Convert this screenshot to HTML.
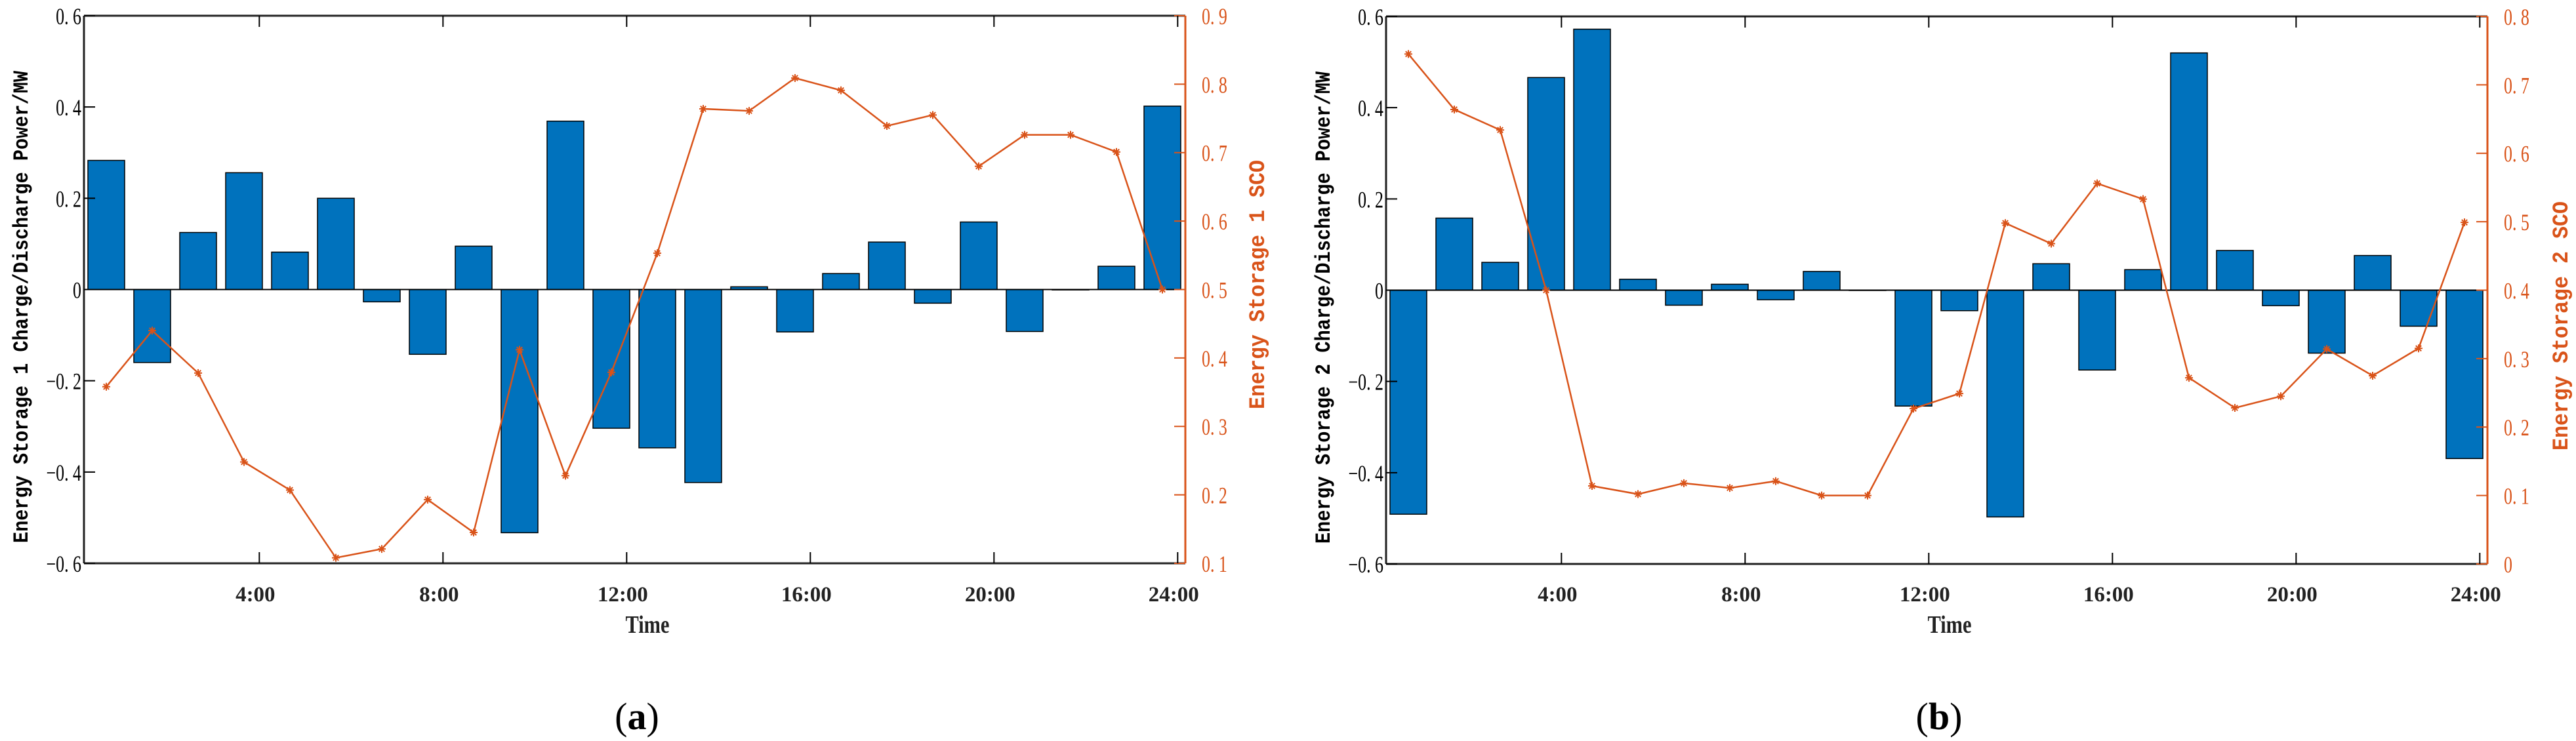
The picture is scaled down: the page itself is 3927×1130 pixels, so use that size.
<!DOCTYPE html>
<html><head><meta charset="utf-8"><style>
html,body{margin:0;padding:0;background:#fff;}
svg{display:block;}
text{font-family:"Liberation Serif",serif;}
text.mono{font-family:"Liberation Mono",monospace;}
</style></head><body>
<svg id="fig" width="3927" height="1130" viewBox="0 0 3927 1130" xmlns="http://www.w3.org/2000/svg"></svg>
<script>
const hours = [1,2,3,4,5,6,7,8,9,10,11,12,13,14,15,16,17,18,19,20,21,22,23,24];
const xTickValues = [4.333,8.333,12.333,16.333,20.333,24.333];
const xTickLabels = ["4:00","8:00","12:00","16:00","20:00","24:00"];
const powerTicks = [0.6,0.4,0.2,0,-0.2,-0.4,-0.6];
const powerTickLabels = ["0. 6","0. 4","0. 2","0","\u22120. 2","\u22120. 4","\u22120. 6"];
const socTicksA = [0.9,0.8,0.7,0.6,0.5,0.4,0.3,0.2,0.1];
const socTickLabelsA = ["0. 9","0. 8","0. 7","0. 6","0. 5","0. 4","0. 3","0. 2","0. 1"];
const socTicksB = [0.8,0.7,0.6,0.5,0.4,0.3,0.2,0.1,0];
const socTickLabelsB = ["0. 8","0. 7","0. 6","0. 5","0. 4","0. 3","0. 2","0. 1","0"];
const powerA = [0.283,-0.160,0.125,0.256,0.082,0.200,-0.027,-0.142,0.095,-0.533,0.369,-0.304,-0.347,-0.423,0.006,-0.093,0.035,0.104,-0.030,0.148,-0.092,-0.001,0.051,0.402];
const socA = [0.358,0.440,0.378,0.248,0.207,0.108,0.121,0.193,0.145,0.412,0.228,0.379,0.553,0.764,0.761,0.809,0.791,0.739,0.755,0.680,0.726,0.726,0.701,0.500];
const powerB = [-0.491,0.158,0.061,0.466,0.572,0.024,-0.033,0.013,-0.021,0.041,0,-0.254,-0.045,-0.497,0.058,-0.175,0.045,0.520,0.087,-0.034,-0.138,0.076,-0.079,-0.369];
const socB = [0.745,0.664,0.634,0.400,0.114,0.102,0.118,0.111,0.121,0.100,0.100,0.227,0.249,0.498,0.468,0.556,0.533,0.272,0.228,0.245,0.314,0.275,0.315,0.499];

const NS="http://www.w3.org/2000/svg";
const svg=document.getElementById('fig');
function mk(tag,attrs,parent,txt){const e=document.createElementNS(NS,tag);for(const k in attrs)e.setAttribute(k,attrs[k]);if(txt!==undefined)e.textContent=txt;(parent||svg).appendChild(e);return e;}
const ORANGE="#D95319", BLUE="#0072BD";

function panel(id,L,T,powers,socs,socMin,socMax,socTicks,socLabels,yTitle,rTitle,caption){
  const W=1679,H=835,R=L+W,B=T+H;
  const g=mk('g',{});
  
  
  const x=v=>L+(v-0.514)/(24.5-0.514)*W;
  const y=v=>T+(0.6-v)/1.2*H;
  const y2=v=>T+(socMax-v)/(socMax-socMin)*H;
  const bw=0.8*W/(24.5-0.514);
  hours.forEach((h,i)=>{
    const v=powers[i];const y0=y(0),yv=y(v);
    const r=mk('rect',{x:x(h)-bw/2,y:Math.min(y0,yv),width:bw,height:Math.max(Math.abs(yv-y0),0.5),fill:BLUE,stroke:'#000','stroke-width':1.5},g);
    
    
  });
  const zl=mk('line',{x1:L,x2:R,y1:y(0),y2:y(0),stroke:'#000','stroke-width':2},g);
  
  
  const pts=hours.map((h,i)=>x(h)+','+y2(socs[i])).join(' ');
  const pl=mk('polyline',{points:pts,fill:'none',stroke:ORANGE,'stroke-width':2.5},g);
  
  
  hours.forEach((h,i)=>{
    const cx=x(h),cy=y2(socs[i]),s=6;
    const m=mk('path',{d:`M${cx-s},${cy}H${cx+s}M${cx},${cy-s}V${cy+s}M${cx-s*0.7},${cy-s*0.7}L${cx+s*0.7},${cy+s*0.7}M${cx-s*0.7},${cy+s*0.7}L${cx+s*0.7},${cy-s*0.7}`,stroke:ORANGE,'stroke-width':2,fill:'none'},g);
    
    
  });
  mk('line',{x1:L,x2:R,y1:T,y2:T,stroke:'#222','stroke-width':3},g);
  mk('line',{x1:L,x2:R,y1:B,y2:B,stroke:'#222','stroke-width':3},g);
  mk('line',{x1:L,x2:L,y1:T,y2:B,stroke:'#222','stroke-width':3},g);
  mk('line',{x1:R,x2:R,y1:T,y2:B,stroke:ORANGE,'stroke-width':3},g);
  powerTicks.forEach((v,i)=>{
    mk('line',{x1:L,x2:L+17,y1:y(v),y2:y(v),stroke:'#000','stroke-width':2},g);
    const t=mk('text',{x:L-4,y:y(v)+13,'text-anchor':'end','font-size':36,fill:'#000',transform:`translate(${L-4},0) scale(0.72,1) translate(${-(L-4)},0)`},g,powerTickLabels[i]);
    
    
  });
  socTicks.forEach((v,i)=>{
    mk('line',{x1:R-17,x2:R,y1:y2(v),y2:y2(v),stroke:ORANGE,'stroke-width':2},g);
    const t=mk('text',{x:R+25,y:y2(v)+13,'font-size':36,fill:ORANGE,transform:`translate(${R+25},0) scale(0.72,1) translate(${-(R+25)},0)`},g,socLabels[i]);
    
    
  });
  xTickValues.forEach((v,i)=>{
    mk('line',{x1:x(v),x2:x(v),y1:B,y2:B-17,stroke:'#000','stroke-width':2},g);
    mk('line',{x1:x(v),x2:x(v),y1:T,y2:T+17,stroke:'#000','stroke-width':2},g);
    const t=mk('text',{x:x(v)-6,y:917,'text-anchor':'middle','font-size':33,'font-weight':'bold',fill:'#222'},g,xTickLabels[i]);
    
    
  });
  const xt=mk('text',{x:L+859,y:965,'text-anchor':'middle','font-size':38,'font-weight':'bold',fill:'#222',transform:`translate(${L+859},0) scale(0.8,1) translate(${-(L+859)},0)`},g,'Time');
  
  
  const yc=(108+828)/2+(T-24);
  const yt=mk('text',{class:'mono',x:0,y:0,'text-anchor':'middle','font-size':32,'font-weight':'bold',fill:'#000',textLength:720,lengthAdjust:'spacingAndGlyphs',transform:`translate(${L-86},${yc}) rotate(-90)`},g,yTitle);
  
  
  const rc=(244+624)/2+(T-24)+(id==='b'?62:0);
  const rt=mk('text',{class:'mono',x:0,y:0,'text-anchor':'middle','font-size':34,'font-weight':'bold',fill:ORANGE,textLength:380,lengthAdjust:'spacingAndGlyphs',transform:`translate(${R+(id==='b'?122:120)},${rc}) rotate(-90)`},g,rTitle);
  
  
  const cap=mk('text',{x:L+843,y:1112,'text-anchor':'middle','font-size':58,fill:'#000'},g);
  
  
  mk('tspan',{},cap,'(');
  mk('tspan',{'font-weight':'bold'},cap,caption);
  mk('tspan',{},cap,')');
}
panel('a',128,24,powerA,socA,0.1,0.9,socTicksA,socTickLabelsA,'Energy Storage 1 Charge/Discharge Power/MW','Energy Storage 1 SCO','a');
panel('b',2113,25,powerB,socB,0,0.8,socTicksB,socTickLabelsB,'Energy Storage 2 Charge/Discharge Power/MW','Energy Storage 2 SCO','b');
</script>
</body></html>
